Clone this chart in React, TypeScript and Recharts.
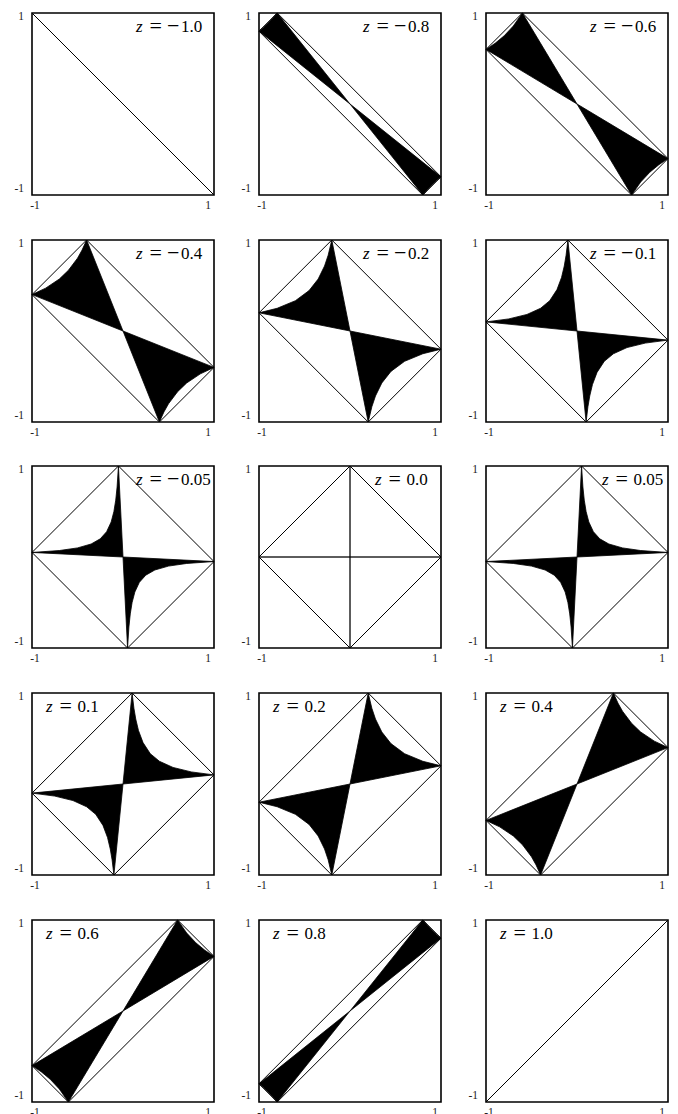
import React from 'react';
import { ComposedChart, Line, XAxis, YAxis, ReferenceArea } from 'recharts';

// z level of each panel (row by row)
const zValues = [-1.0, -0.8, -0.6, -0.4, -0.2, -0.1, -0.05, 0.0, 0.05, 0.1, 0.2, 0.4, 0.6, 0.8, 1.0];
const zLabels = ['−1.0', '−0.8', '−0.6', '−0.4', '−0.2', '−0.1', '−0.05', '0.0', '0.05', '0.1', '0.2', '0.4', '0.6', '0.8', '1.0'];

// curved boundary of the upper black lobe in each panel
const arcPoints: number[][][] = [
  [],
  [[-1, 0.8], [-0.95, 0.842], [-0.9, 0.889], [-0.85, 0.941], [-0.8, 1]],
  [[-1, 0.6], [-0.9, 0.667], [-0.8, 0.75], [-0.7, 0.857], [-0.6, 1]],
  [[-1, 0.4], [-0.85, 0.471], [-0.7, 0.571], [-0.6, 0.667], [-0.5, 0.8], [-0.45, 0.889], [-0.4, 1]],
  [[-1, 0.2], [-0.8, 0.25], [-0.6, 0.333], [-0.45, 0.444], [-0.35, 0.571], [-0.28, 0.714], [-0.24, 0.833], [-0.2, 1]],
  [[-1, 0.1], [-0.75, 0.133], [-0.55, 0.182], [-0.4, 0.25], [-0.3, 0.333], [-0.22, 0.455], [-0.17, 0.588], [-0.14, 0.714], [-0.12, 0.833], [-0.1, 1]],
  [[-1, 0.05], [-0.7, 0.071], [-0.5, 0.1], [-0.35, 0.143], [-0.25, 0.2], [-0.18, 0.278], [-0.13, 0.385], [-0.1, 0.5], [-0.08, 0.625], [-0.065, 0.769], [-0.05, 1]],
  [[0, 1], [0, 0], [1, 0]],
  [[0.05, 1], [0.065, 0.769], [0.08, 0.625], [0.1, 0.5], [0.13, 0.385], [0.18, 0.278], [0.25, 0.2], [0.35, 0.143], [0.5, 0.1], [0.7, 0.071], [1, 0.05]],
  [[0.1, 1], [0.12, 0.833], [0.14, 0.714], [0.17, 0.588], [0.22, 0.455], [0.3, 0.333], [0.4, 0.25], [0.55, 0.182], [0.75, 0.133], [1, 0.1]],
  [[0.2, 1], [0.24, 0.833], [0.28, 0.714], [0.35, 0.571], [0.45, 0.444], [0.6, 0.333], [0.8, 0.25], [1, 0.2]],
  [[0.4, 1], [0.45, 0.889], [0.5, 0.8], [0.6, 0.667], [0.7, 0.571], [0.85, 0.471], [1, 0.4]],
  [[0.6, 1], [0.7, 0.857], [0.8, 0.75], [0.9, 0.667], [1, 0.6]],
  [[0.8, 1], [0.85, 0.941], [0.9, 0.889], [0.95, 0.842], [1, 0.8]],
  [],
];

const axisTicks = [-1, 1];

// layout
const colLefts = [32, 259, 486];
const rowTops = [13, 240, 466, 693, 920];
const labelLeft = [104, 104, 104, 104, 104, 104, 104, 116, 116, 14, 14, 14, 14, 14, 14];
const PLOT = 182;
const ML = 30;
const MT = 10;
const MR = 14;
const XH = 20;
const FONT = "'Liberation Serif', 'Times New Roman', 'DejaVu Serif', serif";

const tickStyle: React.CSSProperties = { fontFamily: FONT, fontSize: 11.5 };

const XTick = (props: any) => {
  const { x, y, payload } = props;
  const v = payload.value;
  const dx = v < 0 ? 3 : -6;
  return (
    <text x={x + dx} y={y + 14} textAnchor="middle" style={tickStyle} fill="#222">
      {v < 0 ? '-1' : '1'}
    </text>
  );
};

const YTick = (props: any) => {
  const { x, y, payload } = props;
  const v = payload.value;
  return (
    <text x={x - 8} y={v > 0 ? y + 7 : y - 3.3} textAnchor="end" style={tickStyle} fill="#222">
      {v > 0 ? '1' : '-1'}
    </text>
  );
};

function Panel({ idx }: { idx: number }) {
  const z = zValues[idx];
  const corners = [[-1, -z], [z, 1], [1, z], [-z, -1], [-1, -z]].map(([x, y]) => ({ x, y }));
  const arc = arcPoints[idx];
  const upper = arc.length ? [...arc, [0, 0], arc[0]].map(([x, y]) => ({ x, y })) : [];
  const lower = upper.map((p) => ({ x: -p.x, y: -p.y }));
  const col = idx % 3;
  const row = Math.floor(idx / 3);
  const left = colLefts[col] - ML;
  const top = rowTops[row] - MT;
  const w = ML + PLOT + MR;
  const h = MT + PLOT + XH;
  return (
    <div style={{ position: 'absolute', left, top, width: w, height: h }}>
      <ComposedChart width={w} height={h} margin={{ top: MT, right: MR, left: 6, bottom: 0 }}>
        <XAxis
          type="number"
          dataKey="x"
          domain={[-1, 1]}
          ticks={axisTicks}
          interval={0}
          axisLine={false}
          tickLine={false}
          tickSize={0}
          tickMargin={0}
          height={XH}
          tick={<XTick />}
        />
        <YAxis
          type="number"
          dataKey="y"
          domain={[-1, 1]}
          ticks={axisTicks}
          interval={0}
          axisLine={false}
          tickLine={false}
          tickSize={0}
          tickMargin={0}
          width={ML - 6}
          tick={<YTick />}
        />
        {upper.length > 0 && (
          <Line
            className="lobe"
            data={upper}
            dataKey="y"
            type="linear"
            stroke="#000"
            strokeWidth={0.8}
            strokeLinejoin="round"
            dot={false}
            activeDot={false}
            isAnimationActive={false}
          />
        )}
        {lower.length > 0 && (
          <Line
            className="lobe"
            data={lower}
            dataKey="y"
            type="linear"
            stroke="#000"
            strokeWidth={0.8}
            strokeLinejoin="round"
            dot={false}
            activeDot={false}
            isAnimationActive={false}
          />
        )}
        <Line
          data={corners}
          dataKey="y"
          type="linear"
          stroke="#000"
          strokeWidth={1}
          dot={false}
          activeDot={false}
          isAnimationActive={false}
        />
        <ReferenceArea x1={-1} x2={1} y1={-1} y2={1} fill="none" stroke="#000" strokeWidth={1.6} ifOverflow="visible" />
      </ComposedChart>
    </div>
  );
}

function ZLabel({ idx }: { idx: number }) {
  const col = idx % 3;
  const row = Math.floor(idx / 3);
  const X = colLefts[col] + labelLeft[idx];
  const Y = rowTops[row] + 19;
  const lab = zLabels[idx];
  const neg = lab.startsWith('−');
  const digits = neg ? lab.slice(1) : lab;
  const base = { fontFamily: FONT, fontSize: 17 } as React.CSSProperties;
  const wide = { fontFamily: FONT, fontSize: 22 } as React.CSSProperties;
  return (
    <g fill="#000">
      <text x={X} y={Y} style={{ ...base, fontStyle: 'italic' }}>z</text>
      <text x={X + 13.5} y={Y + 1.2} style={wide}>=</text>
      {neg && <text x={X + 31} y={Y + 1.2} style={wide}>−</text>}
      <text x={X + (neg ? 45 : 31.5)} y={Y} style={base}>{digits}</text>
    </g>
  );
}

export default function App() {
  return (
    <div style={{ position: 'absolute', left: 0, top: 0, width: 678, height: 1114, overflow: 'hidden', background: '#fff', fontFamily: FONT }}>
      <style>{'.lobe path{fill:#000;}'}</style>
      {zValues.map((_, i) => (
        <Panel key={i} idx={i} />
      ))}
      <svg width={678} height={1114} style={{ position: 'absolute', left: 0, top: 0, pointerEvents: 'none' }}>
        {zValues.map((_, i) => (
          <ZLabel key={i} idx={i} />
        ))}
      </svg>
    </div>
  );
}
